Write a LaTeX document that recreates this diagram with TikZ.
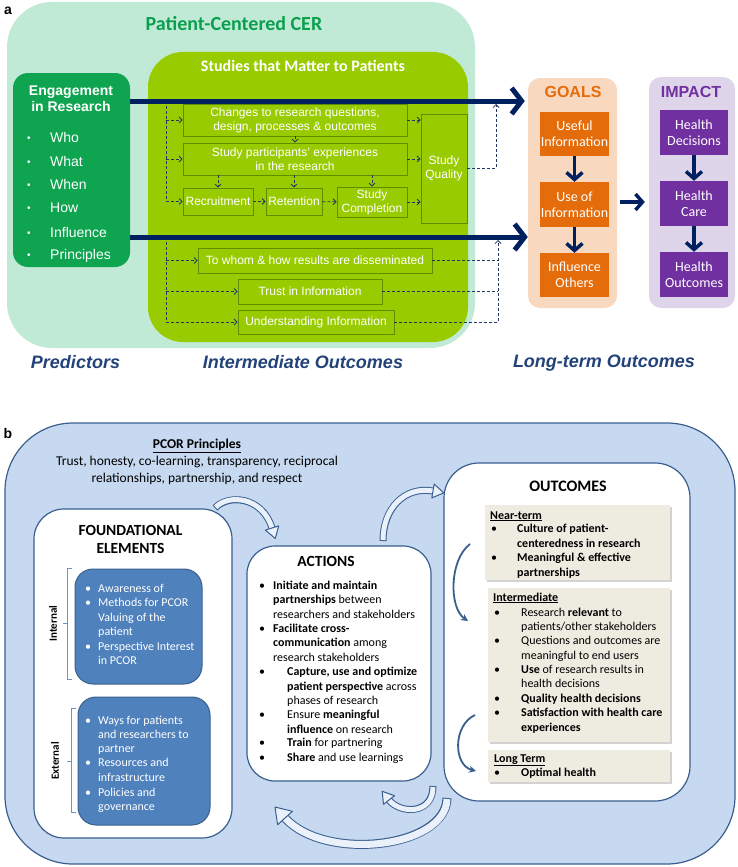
\documentclass[tikz,border=0pt]{standalone}
\usepackage{fontspec}
\setmainfont{Liberation Sans}
\newfontfamily\calib{Carlito}
\usetikzlibrary{arrows.meta,shadows}
\definecolor{mint}{HTML}{C1EAD6}
\definecolor{lime}{HTML}{99CC00}
\definecolor{limeedge}{HTML}{5E8E00}
\definecolor{egreen}{HTML}{0FA550}
\definecolor{tgreen}{HTML}{0BA04E}
\definecolor{navy}{HTML}{002060}
\definecolor{dnavy}{HTML}{1F3864}
\definecolor{lblue}{HTML}{23427A}
\definecolor{peach}{HTML}{F9D8C0}
\definecolor{orng}{HTML}{E46C0A}
\definecolor{lav}{HTML}{DFD5EB}
\definecolor{purp}{HTML}{7030A0}
\definecolor{bgblue}{HTML}{C6D9F1}
\definecolor{bedge}{HTML}{3A5F8E}
\definecolor{ibox}{HTML}{4F81BD}
\definecolor{gboxc}{HTML}{EEECE1}
\definecolor{bfill}{HTML}{EAF1FA}
\definecolor{brkc}{HTML}{6F93C4}
\begin{document}
\begin{tikzpicture}[x=1pt,y=-1pt,
  lbox/.style={draw=limeedge,line width=0.8pt,fill=lime,text=white,inner sep=0pt,align=center,font=\fontsize{12}{14}\selectfont},
  dsh/.style={draw=dnavy,line width=0.8pt,dash pattern=on 3pt off 2pt},
  dar/.style={dsh,-{Straight Barb[length=3pt,width=6pt]}},
  thk/.style={draw=navy,line width=5pt,-{Straight Barb[length=10pt,width=26pt]}},
  mthk/.style={draw=navy,line width=3.5pt,-{Straight Barb[length=7pt,width=16pt]}},
  obox/.style={fill=orng,text=white,inner sep=0pt,minimum width=69pt,minimum height=44pt,align=center,font=\calib\fontsize{14}{16}\selectfont},
  pbox/.style={obox,fill=purp,minimum width=68pt},
  lbl/.style={text=lblue,font=\bfseries\itshape\fontsize{18}{20}\selectfont},
  ewt/.style={anchor=base west,inner sep=0pt,text=white,font=\fontsize{14}{16}\selectfont},
  wtx/.style={anchor=base west,inner sep=0pt,text=white,font=\calib\fontsize{12}{14}\selectfont},
  btx/.style={anchor=base west,inner sep=0pt,text=black,font=\calib\fontsize{12}{14}\selectfont},
  wbox/.style={draw=bedge,fill=white,line width=1.2pt,inner sep=0pt},
  ibx/.style={draw=bedge,fill=ibox,line width=1pt,rounded corners=18pt,inner sep=0pt},
  gry/.style={fill=gboxc,inner sep=0pt,drop shadow={shadow xshift=2pt,shadow yshift=-2pt,fill=black!35}},
  brk/.style={draw=brkc,line width=0.9pt},
  bando/.style={draw=bedge,line width=7pt},
  bandi/.style={draw=bfill,line width=5pt},
  bhd/.style={draw=bedge,line width=1pt,fill=bfill,line join=round},
  thin/.style={draw=bedge,line width=1.8pt,-{Stealth[length=7pt,width=7pt]}},
  ttl/.style={font=\calib\bfseries\fontsize{15.5}{18.5}\selectfont,align=center}
]
\useasboundingbox (0,0) rectangle (738,867);
% ---------------- panel a ----------------
\fill[mint,rounded corners=45pt] (7,2) rectangle (475,348);
\fill[lime,rounded corners=35pt] (148,52) rectangle (468,342);
\node[font=\bfseries\fontsize{14}{16}\selectfont] (la) at (8,11) {a};
\node[font=\calib\bfseries\fontsize{20}{22}\selectfont,text=tgreen] (pcer) at (234,24) {Patient-Centered CER};
\node[font=\calib\bfseries\fontsize{16}{18}\selectfont,text=white] (stm) at (303,66) {Studies that Matter to Patients};
% engagement
\node[fill=egreen,rounded corners=15pt,minimum width=117pt,minimum height=194pt,inner sep=0pt] (eng) at (71.5,170) {};
\node[text=white,font=\bfseries\fontsize{14}{16}\selectfont,align=center] (engt) at (71,99) {Engagement\\in Research};
\foreach \w/\yy [count=\i] in {Who/137,What/161,When/184,How/207,Influence/232,Principles/254}{
  \node[ewt,font=\fontsize{10}{12}\selectfont] (eb\i) at (27,\yy+4) {•};
  \node[ewt] (ew\i) at (50,\yy+5) {\w};
}
% goals / impact
\node[fill=peach,rounded corners=12pt,minimum width=89pt,minimum height=230pt,inner sep=0pt] (goals) at (572.5,193) {};
\node[fill=lav,rounded corners=12pt,minimum width=86pt,minimum height=231pt,inner sep=0pt] (imp) at (692,192.5) {};
\node[text=orng,font=\bfseries\fontsize{16}{18}\selectfont] (gt) at (573,92) {GOALS};
\node[text=purp,font=\bfseries\fontsize{16}{18}\selectfont] (it) at (691,92) {IMPACT};
\node[obox] (g1) at (574.5,134) {Useful\\Information};
\node[obox,minimum height=45pt] (g2) at (574.5,204.5) {Use of\\Information};
\node[obox] (g3) at (574.5,275) {Influence\\Others};
\node[pbox,minimum height=45pt] (h1) at (694,132.5) {Health\\Decisions};
\node[pbox,minimum height=45pt] (h2) at (694,203.5) {Health\\Care};
\node[pbox,minimum height=45pt] (h3) at (694,274.5) {Health\\Outcomes};
\draw[mthk] (g1) -- (g2);
\draw[mthk] (g2) -- (g3);
\draw[mthk] (h1) -- (h2);
\draw[mthk] (h2) -- (h3);
\draw[mthk,shorten <=3pt,shorten >=4pt] (goals.east |- 0,202) -- (imp.west |- 0,202);
% lime boxes
\node[lbox,minimum width=224pt,minimum height=32pt] (chg) at (295,120) {Changes to research questions,\\design, processes \& outcomes};
\node[lbox,minimum width=224pt,minimum height=32pt] (spe) at (295,159) {Study participants' experiences\\in the research};
\node[lbox,minimum width=70pt,minimum height=27pt] (rec) at (218,201.5) {Recruitment};
\node[lbox,minimum width=56pt,minimum height=27pt] (ret) at (294,201.5) {Retention};
\node[lbox,minimum width=70pt,minimum height=30pt] (sc) at (372,202) {Study\\Completion};
\node[lbox,minimum width=46pt,minimum height=109pt] (sq) at (444,168.5) {Study\\Quality};
\node[lbox,minimum width=234pt,minimum height=25pt] (tw) at (315,260.5) {To whom \& how results are disseminated};
\node[lbox,minimum width=144pt,minimum height=25pt] (ti) at (310,291.5) {Trust in Information};
\node[lbox,minimum width=156pt,minimum height=24pt] (ui) at (316,322) {Understanding Information};
% dashed connectors
\draw[dsh] (166,101) -- (166,201.5);
\draw[dar] (166,120) -- (chg.west);
\draw[dar] (166,159) -- (spe.west);
\draw[dar] (166,201.5) -- (rec.west);
\draw[dar] (chg.south) -- (spe.north);
\draw[dar] (spe.south -| rec) -- (rec.north);
\draw[dar] (spe.south -| ret) -- (ret.north);
\draw[dar] (spe.south -| sc) -- (sc.north);
\draw[dar] (rec) -- (ret);
\draw[dar] (ret) -- (sc);
\draw[dar] (chg.east) -- (chg.east -| sq.west);
\draw[dar] (spe.east) -- (spe.east -| sq.west);
\draw[dar] (sc.east) -- (sc.east -| sq.west);
\draw[dar] (sq.east) -- (496,168.5) -- (496,104);
\draw[dsh] (166,237) -- (166,322);
\draw[dar] (166,260.5) -- (tw.west);
\draw[dar] (166,291.5) -- (ti.west);
\draw[dar] (166,322) -- (ui.west);
\draw[dsh] (tw.east) -- (498,260.5);
\draw[dsh] (ti.east) -- (498,291.5);
\draw[dar] (ui.east) -- (498,322) -- (498,240);
% thick arrows
\draw[thk,shorten >=3pt] (eng.east |- 0,101) -- (goals.west |- 0,101);
\draw[thk] (eng.east |- 0,237) -- (goals.west |- 0,237);
% labels
\node[lbl] (pred) at (75.5,362) {Predictors};
\node[lbl] (imo) at (303,362) {Intermediate Outcomes};
\node[lbl] (lto) at (604,363) {Long-term Outcomes};
% ---------------- panel b ----------------
\draw[draw=bedge,fill=bgblue,line width=1.2pt,rounded corners=68pt] (5,423) rectangle (735,864);
\node[font=\bfseries\fontsize{14}{16}\selectfont] (lb) at (8,433) {b};
\node[font=\calib\fontsize{13.5}{15}\selectfont] (pp) at (197,446) {\underline{\textbf{PCOR Principles}}};
\node[font=\calib\fontsize{13.5}{16.5}\selectfont,align=center] (ppt) at (197,470.5) {Trust, honesty, co-learning, transparency, reciprocal\\relationships, partnership, and respect};
% foundational
\node[wbox,rounded corners=30pt,minimum width=198pt,minimum height=329pt] (fnd) at (133,673.5) {};
\node[ttl] (fndt) at (130.5,539.5) {FOUNDATIONAL\\ELEMENTS};
\node[ibx,minimum width=127pt,minimum height=115pt] (int) at (138.5,626.5) {};
\node[ibx,minimum width=132pt,minimum height=128pt] (ext) at (144,761) {};
\foreach \yy/\t [count=\i] in {588/{Awareness of},602/{Methods for PCOR},617/{Valuing of the},631/{patient},646/{Perspective Interest},660/{in PCOR}}{
  \node[wtx] (it\i) at (98,\yy+4) {\t};
}
\foreach \yy [count=\i] in {588,602,646}{\node[wtx] (ib\i) at (85,\yy+4) {•};}
\foreach \yy/\t [count=\i] in {720/{Ways for patients},734/{and researchers to},748/{partner},762/{Resources and},777/{infrastructure},792/{Policies and},806/{governance}}{
  \node[wtx] (et\i) at (98,\yy+4) {\t};
}
\foreach \yy [count=\i] in {720,762,792}{\node[wtx] (ebb\i) at (85,\yy+4) {•};}
\draw[brk] (72,568) -- (67,568) -- (67,679) -- (72,679);
\draw[brk] (67,623.5) -- (63,623.5);
\draw[brk] (76,708) -- (71,708) -- (71,812) -- (76,812);
\draw[brk] (71,761) -- (67,761);
\node[rotate=90,font=\calib\bfseries\fontsize{11}{12}\selectfont] (intl) at (53,623.5) {Internal};
\node[rotate=90,font=\calib\bfseries\fontsize{11}{12}\selectfont] (extl) at (55,761) {External};
% actions
\node[wbox,rounded corners=28pt,minimum width=184pt,minimum height=235pt] (act) at (339,663.5) {};
\node[ttl] (actt) at (326,561) {ACTIONS};
\foreach \xx/\yy/\t [count=\i] in {
 273/585/{\textbf{Initiate and maintain}},
 273/599.3/{\textbf{partnerships} between},
 273/614/{researchers and stakeholders},
 273/628.3/{\textbf{Facilitate cross-}},
 273/642.7/{\textbf{communication} among},
 273/657.3/{research stakeholders},
 287/671.7/{\textbf{Capture, use and optimize}},
 287/686/{\textbf{patient perspective} across},
 287/700/{phases of research},
 287/714.3/{Ensure \textbf{meaningful}},
 287/729/{\textbf{influence} on research},
 287/742.7/{\textbf{Train} for partnering},
 287/757.7/{\textbf{Share} and use learnings}}{
  \node[btx] (at\i) at (\xx,\yy+4) {\t};
}
\foreach \yy [count=\i] in {585,628.3,671.7,714.3,742.7,757.7}{\node[btx] (abl\i) at (259,\yy+4) {•};}
% outcomes
\node[wbox,rounded corners=35pt,minimum width=246pt,minimum height=338pt] (outc) at (567,632) {};
\node[ttl,font=\calib\bfseries\fontsize{16}{18}\selectfont] (outt) at (568,486) {OUTCOMES};
\node[gry,minimum width=185pt,minimum height=75pt] (nt) at (577.5,542.5) {};
\node[gry,minimum width=182pt,minimum height=154pt] (im) at (579,665) {};
\node[gry,minimum width=182pt,minimum height=32pt] (lt) at (579,766) {};
\node[btx] (nth) at (490,519) {\underline{\textbf{Near-term}}};
\foreach \yy/\t [count=\i] in {528/{\textbf{Culture of patient-}},543/{\textbf{centeredness in research}},557/{\textbf{Meaningful \& effective}},572/{\textbf{partnerships}}}{
  \node[btx] (ntt\i) at (517,\yy+4) {\t};
}
\foreach \yy [count=\i] in {528,557}{\node[btx] (ntb\i) at (491,\yy+4) {•};}
\node[btx] (imh) at (493,601) {\underline{\textbf{Intermediate}}};
\foreach \yy/\t [count=\i] in {
 612/{Research \textbf{relevant} to},
 626/{patients/other stakeholders},
 640/{Questions and outcomes are},
 655/{meaningful to end users},
 669/{\textbf{Use} of research results in},
 683/{health decisions},
 698/{\textbf{Quality health decisions}},
 712/{\textbf{Satisfaction with health care}},
 727/{\textbf{experiences}}}{
  \node[btx] (imt\i) at (521,\yy+4) {\t};
}
\foreach \yy [count=\i] in {612,640,669,698,712}{\node[btx] (imb\i) at (494,\yy+4) {•};}
\node[btx] (lth) at (494,762) {\underline{\textbf{Long Term}}};
\node[btx] (ltt) at (521,776) {\textbf{Optimal health}};
\node[btx] (ltb) at (494,776) {•};
% thin curved arrows inside outcomes
\draw[thin] (470,544) .. controls (449,560) and (449,608) .. (468,621);
\draw[thin] (475,715) .. controls (453,725) and (453,765) .. (476,771);
% block arrows
\draw[bando] (215,508) .. controls (228,494) and (262,496) .. (272,528);
\draw[bandi,shorten <=1pt] (215,508) .. controls (228,494) and (262,496) .. (272,528);
\draw[bhd] (278.7,525.9) -- (275.3,538.5) -- (265.3,530.1) -- cycle;
\draw[bando] (383,541) .. controls (383,508) and (405,486) .. (433,491);
\draw[bandi,shorten <=1pt] (383,541) .. controls (383,508) and (405,486) .. (433,491);
\draw[bhd] (434.2,484.1) -- (443.8,492.9) -- (431.8,497.9) -- cycle;
\draw[bando,line width=9pt] (447,798) .. controls (446,848) and (325,862) .. (285,818);
\draw[bandi,line width=7pt,shorten <=1pt] (447,798) .. controls (446,848) and (325,862) .. (285,818);
\draw[bhd] (292.4,811.3) -- (275,807) -- (277.6,824.7) -- cycle;
\draw[bando] (433,786) .. controls (433,815) and (400,814) .. (389,800);
\draw[bandi,shorten <=1pt] (433,786) .. controls (433,815) and (400,814) .. (389,800);
\draw[bhd] (394.5,795.7) -- (382.2,791.3) -- (383.5,804.3) -- cycle;
\end{tikzpicture}
\end{document}
